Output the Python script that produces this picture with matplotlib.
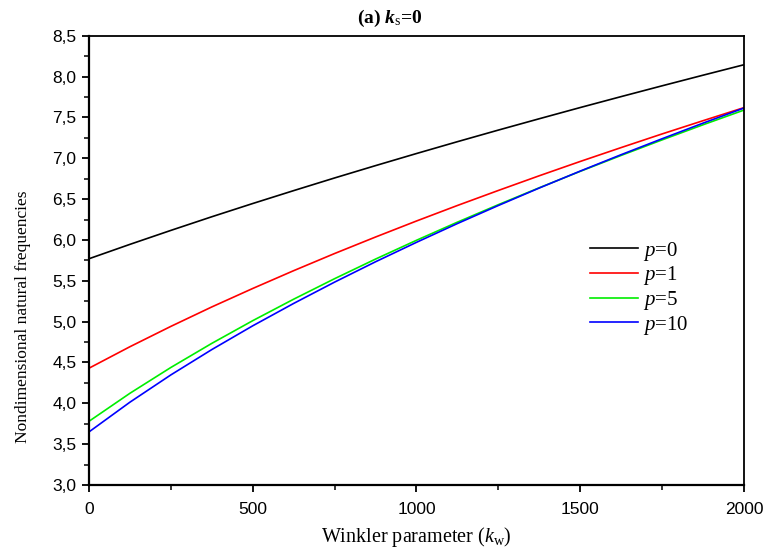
import matplotlib
matplotlib.use("Agg")
import matplotlib.pyplot as plt
from matplotlib.ticker import MultipleLocator, FuncFormatter
import numpy as np

plt.rcParams["mathtext.fontset"] = "custom"
plt.rcParams["mathtext.rm"] = "Liberation Serif"
plt.rcParams["mathtext.it"] = "Liberation Serif:italic"
plt.rcParams["mathtext.bf"] = "Liberation Serif:italic:bold"

# Winkler parameter k_w
kw = [0, 125, 250, 375, 500, 625, 750, 875, 1000,
      1125, 1250, 1375, 1500, 1625, 1750, 1875, 2000]

# nondimensional natural frequencies for each power-law index p
freq_p0 = [5.770, 5.946, 6.117, 6.284, 6.446, 6.604, 6.759, 6.910, 7.058,
           7.203, 7.345, 7.484, 7.621, 7.755, 7.887, 8.017, 8.145]
freq_p1 = [4.430, 4.693, 4.942, 5.180, 5.406, 5.624, 5.834, 6.036, 6.232,
           6.422, 6.606, 6.786, 6.961, 7.131, 7.298, 7.460, 7.620]
freq_p5 = [3.780, 4.123, 4.439, 4.734, 5.012, 5.275, 5.526, 5.766, 5.996,
           6.218, 6.432, 6.639, 6.840, 7.035, 7.225, 7.410, 7.590]
freq_p10 = [3.650, 4.014, 4.348, 4.658, 4.949, 5.223, 5.484, 5.733, 5.971,
            6.201, 6.422, 6.636, 6.843, 7.044, 7.239, 7.430, 7.615]

labels = [r"$\mathit{p}$=0", r"$\mathit{p}$=1", r"$\mathit{p}$=5", r"$\mathit{p}$=10"]
colors = ["black", "#ff0000", "#00ee00", "#0000ff"]

fig = plt.figure(figsize=(7.67, 5.54), dpi=100)
ax = fig.add_axes([0.116, 0.1245, 0.854, 0.811])

for y, lab, c in zip([freq_p0, freq_p1, freq_p5, freq_p10], labels, colors):
    ax.plot(kw, y, color=c, lw=1.2, label=lab)

ax.set_xlim(0, 2000)
ax.set_ylim(3.0, 8.5)
ax.xaxis.set_major_locator(MultipleLocator(500))
ax.xaxis.set_minor_locator(MultipleLocator(250))
ax.yaxis.set_major_locator(MultipleLocator(0.5))
ax.yaxis.set_minor_locator(MultipleLocator(0.25))
ax.yaxis.set_major_formatter(FuncFormatter(lambda v, pos: f"{v:.1f}".replace(".", ",")))

ax.tick_params(which="major", direction="out", length=5, width=1.3,
               labelsize=12.5, labelfontfamily="Liberation Sans", pad=4)
ax.tick_params(which="minor", direction="out", length=3.5, width=1.1)
ax.tick_params(axis="x", pad=7)
ax.tick_params(top=False, right=False)

for side in ["left", "bottom"]:
    ax.spines[side].set_linewidth(1.6)
for side in ["top", "right"]:
    ax.spines[side].set_linewidth(1.3)

ax.set_xlabel(r"Winkler parameter ($\mathit{k}_{\mathrm{w}}$)", family="Liberation Serif",
              fontsize=14.5, labelpad=6)
ax.set_ylabel("Nondimensional natural frequencies", family="Liberation Serif",
              fontsize=12.5)
ax.yaxis.set_label_coords(31 / 767, 1 - 317 / 554, transform=fig.transFigure)

fig.text(390 / 767, 1 - 18 / 554, r"(a) $\mathbf{k}_{\mathrm{s}}$=0", family="Liberation Serif",
         fontweight="bold", fontsize=14, ha="center", va="center")

leg = ax.legend(loc="upper left", bbox_to_anchor=(571 / 767, 1 - 221 / 554),
                bbox_transform=fig.transFigure, frameon=False,
                prop={"family": "Liberation Serif", "size": 15},
                handlelength=2.3, handletextpad=0.25, labelspacing=0.08)

fig.savefig("out.png", dpi=100)
